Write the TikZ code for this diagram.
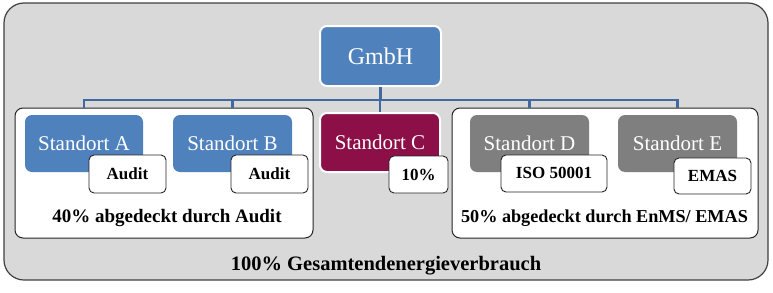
\documentclass[tikz,border=0pt]{standalone}
\usepackage{fontspec}
\setmainfont{Liberation Serif}
\begin{document}
\begin{tikzpicture}[x=1pt,y=-1pt,
  outer/.style={draw=black!75,line width=1.2pt,fill=black!15,rounded corners=20pt},
  group/.style={draw=black!85,line width=1pt,fill=white,rounded corners=8pt},
  unit/.style={rounded corners=7pt,text=white,font=\fontsize{21}{24}\selectfont,inner sep=0pt},
  tag/.style={draw=black!85,line width=0.9pt,fill=white,rounded corners=5pt,font=\bfseries\fontsize{17}{19}\selectfont,inner sep=0pt},
  lbl/.style={font=\bfseries\fontsize{19}{22}\selectfont,inner sep=0pt},
  conn/.style={draw=conncol,line width=2.6pt}]
\definecolor{unitblue}{HTML}{4F81BD}
\definecolor{conncol}{HTML}{41699F}
\definecolor{maroon}{HTML}{8C0F47}
\definecolor{unitgray}{HTML}{7F7F7F}
\useasboundingbox (0,0) rectangle (773,292);
\node[outer,minimum width=764pt,minimum height=277pt] (outer) at (386,141.5) {};
\node[group,minimum width=298pt,minimum height=130pt] (gL) at (164,173) {};
\node[group,minimum width=306pt,minimum height=130pt] (gR) at (605,173) {};
% units
\node[unit,fill=unitblue,draw=white,line width=2pt,minimum width=121pt,minimum height=60pt,font=\fontsize{24}{27}\selectfont] (gmbh) at (380.5,56) {GmbH};
\node[unit,fill=unitblue,minimum width=118pt,minimum height=57pt] (A) at (84,143.5) {Standort A};
\node[unit,fill=unitblue,minimum width=119pt,minimum height=57pt] (B) at (232.5,143.5) {Standort B};
\node[unit,fill=maroon,draw=white,line width=2pt,minimum width=120pt,minimum height=59pt] (C) at (380,142.5) {Standort C};
\node[unit,fill=unitgray,minimum width=119pt,minimum height=57pt] (D) at (529.5,143.5) {Standort D};
\node[unit,fill=unitgray,minimum width=119pt,minimum height=57pt] (E) at (677.5,143.5) {Standort E};
% tags
\node[tag,minimum width=77pt,minimum height=38pt] (tA) at (127.5,174) {Audit};
\node[tag,minimum width=77pt,minimum height=38pt] (tB) at (269.5,174) {Audit};
\node[tag,minimum width=59pt,minimum height=37pt] (tC) at (418.5,174.5) {10\%};
\node[tag,minimum width=106pt,minimum height=37pt] (tD) at (554,173.5) {\raisebox{2pt}{ISO 50001}};
\node[tag,minimum width=77pt,minimum height=36pt] (tE) at (712.5,176) {EMAS};
% labels
\node[lbl] (lL) at (167,218) {40\% abgedeckt durch Audit};
\node[lbl,font=\bfseries\fontsize{18.2}{21}\selectfont] (lR) at (604.5,218) {50\% abgedeckt durch EnMS/ EMAS};
\node[lbl,font=\bfseries\fontsize{20.5}{24}\selectfont] (lT) at (386,266) {100\% Gesamtendenergieverbrauch};
% connectors
\coordinate (busL) at (83,100);
\coordinate (busR) at (679,100);
\draw[conn] (busL) -- (busR);
\draw[conn] (gmbh.south) -- (gmbh.south |- busL);
\draw[conn] (A.north |- busL) -- (A.north |- gL.north);
\draw[conn] (B.north |- busL) -- (B.north |- gL.north);
\draw[conn] (C.north |- busL) -- (C.north);
\draw[conn] (D.north |- busL) -- (D.north |- gR.north);
\draw[conn] (E.north |- busL) -- (E.north |- gR.north);
\end{tikzpicture}
\end{document}
